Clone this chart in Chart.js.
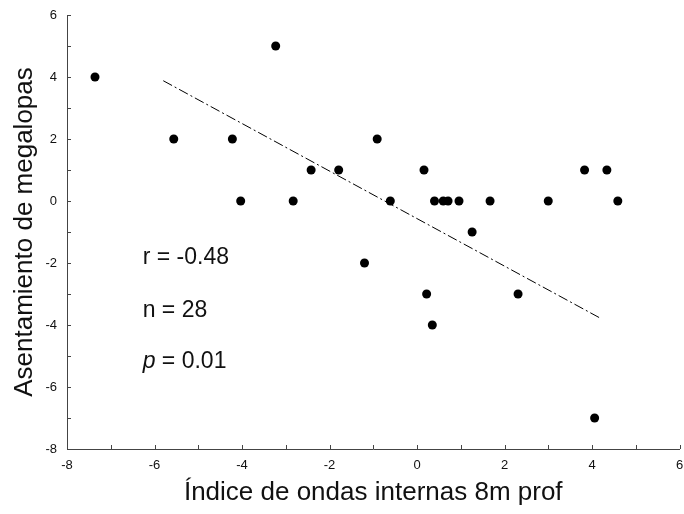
<!DOCTYPE html>
<html>
<head>
<meta charset="utf-8">
<script src="https://cdn.jsdelivr.net/npm/chart.js@4.4.1/dist/chart.umd.min.js"></script>
<style>
  html, body { margin: 0; padding: 0; background: #fff; }
  #wrap { width: 684px; height: 514px; }
</style>
</head>
<body>
<div id="wrap"><canvas id="chart"></canvas></div>
<script>
// observed points (index de ondas internas, asentamiento)
const waveIdx = [-7.36, -5.56, -4.22, -4.03, -3.23, -2.83, -2.42, -1.79, -1.20, -0.91,
                 -0.61, 0.16, 0.22, 0.35, 0.40, 0.60, 0.71, 0.96, 1.26, 1.67,
                 2.31, 3.00, 3.83, 4.06, 4.34, 4.59];
const settlement = [4, 2, 2, 0, 5, 0, 1, 1, -2, 2,
                    0, 1, -3, -4, 0, 0, 0, 0, -1, 0,
                    -3, 0, 1, -7, 1, 0];

// regression line ends
const fitX = [-5.8, 4.19];
const fitY = [3.88, -3.78];

const statLines = ['r = -0.48', 'n = 28', 'p = 0.01'];
const statX = -6.27;
const statY = [-1.84, -3.55, -5.19];

const font = 'Arial, "Liberation Sans", sans-serif';

const innerTicks = {
  id: 'innerTicks',
  afterDraw(chart) {
    const ctx = chart.ctx;
    const xs = chart.scales.x, ys = chart.scales.y;
    const a = chart.chartArea;
    ctx.save();
    ctx.strokeStyle = '#444';
    ctx.lineWidth = 1;
    ctx.beginPath();
    xs.ticks.forEach(t => {
      const px = Math.round(xs.getPixelForValue(t.value)) + 0.5;
      ctx.moveTo(px, a.bottom);
      ctx.lineTo(px, a.bottom - 4);
    });
    ys.ticks.forEach(t => {
      const py = Math.round(ys.getPixelForValue(t.value)) + 0.5;
      ctx.moveTo(a.left, py);
      ctx.lineTo(a.left + 4, py);
    });
    ctx.stroke();

    // stats text
    ctx.fillStyle = '#111';
    ctx.textBaseline = 'middle';
    ctx.textAlign = 'left';
    const sx = xs.getPixelForValue(statX);
    statLines.forEach((s, i) => {
      const sy = ys.getPixelForValue(statY[i]);
      if (s.startsWith('p')) {
        ctx.font = 'italic 23px ' + font;
        ctx.fillText('p', sx, sy);
        const w = ctx.measureText('p').width;
        ctx.font = '23px ' + font;
        ctx.fillText(s.slice(1), sx + w, sy);
      } else {
        ctx.font = '23px ' + font;
        ctx.fillText(s, sx, sy);
      }
    });
    ctx.restore();
  }
};

new Chart(document.getElementById('chart'), {
  type: 'scatter',
  data: {
    datasets: [
      {
        data: waveIdx.map((x, i) => ({ x, y: settlement[i] })),
        backgroundColor: '#000',
        borderWidth: 0,
        pointRadius: 4.5,
        pointHoverRadius: 4.5
      },
      {
        type: 'line',
        data: fitX.map((x, i) => ({ x, y: fitY[i] })),
        borderColor: '#000',
        borderWidth: 1,
        borderDash: [10, 3, 2, 3],
        pointRadius: 0,
        fill: false
      }
    ]
  },
  options: {
    responsive: true,
    maintainAspectRatio: false,
    animation: false,
    layout: { padding: { top: 15, right: 2, left: 0, bottom: 0 } },
    plugins: { legend: { display: false }, tooltip: { enabled: false } },
    scales: {
      x: {
        type: 'linear',
        min: -8, max: 6,
        grid: { display: false, drawTicks: false },
        border: { display: true, color: '#444', width: 1 },
        ticks: {
          stepSize: 1, autoSkip: false, maxRotation: 0, padding: 9,
          color: '#111', font: { family: font, size: 13 },
          callback: v => (v % 2 === 0 ? v : '')
        },
        title: {
          display: true, text: 'Índice de ondas internas 8m prof',
          color: '#111', font: { family: font, size: 26, lineHeight: 1 },
          padding: { top: 0, bottom: 8 }
        },
        afterFit(s) { s.height = 65; s.paddingLeft = 0; s.paddingRight = 0; }
      },
      y: {
        type: 'linear',
        min: -8, max: 6,
        grid: { display: false, drawTicks: false },
        border: { display: true, color: '#444', width: 1 },
        ticks: {
          stepSize: 1, autoSkip: false, padding: 10,
          color: '#111', font: { family: font, size: 13 },
          callback: v => (v % 2 === 0 ? v : '')
        },
        title: {
          display: true, text: 'Asentamiento de megalopas',
          color: '#111', font: { family: font, size: 26, lineHeight: 1 },
          padding: { top: 12, bottom: 0 }
        },
        afterFit(s) { s.width = 67; s.paddingTop = 0; s.paddingBottom = 0; }
      }
    }
  },
  plugins: [innerTicks]
});
</script>
</body>
</html>
